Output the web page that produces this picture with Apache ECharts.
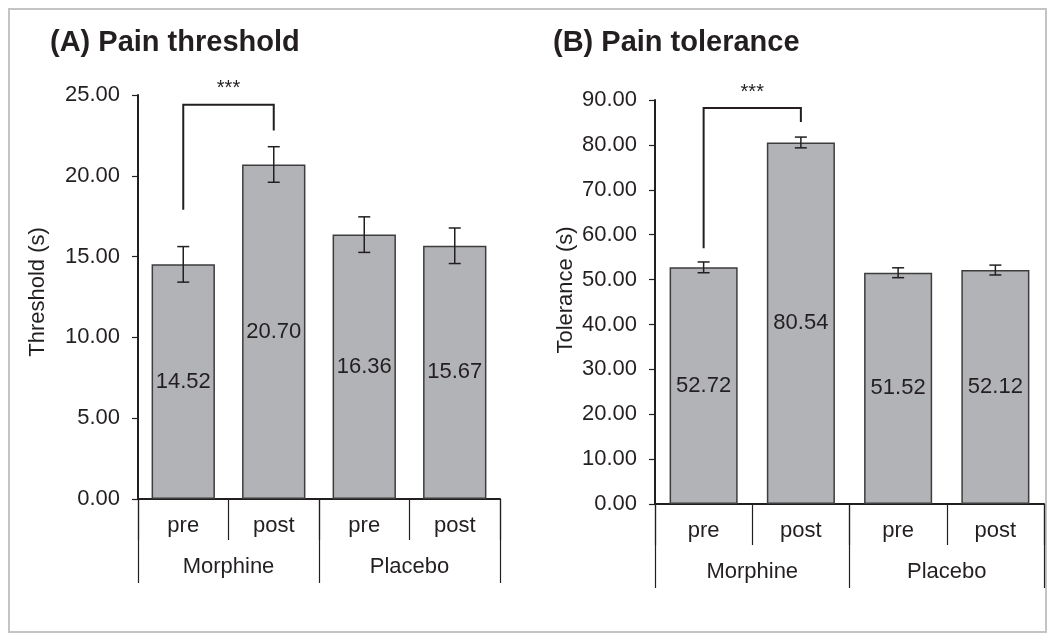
<!DOCTYPE html>
<html>
<head>
<meta charset="utf-8">
<script src="https://cdn.jsdelivr.net/npm/echarts@6/dist/echarts.min.js"></script>
<style>
  html, body { margin: 0; padding: 0; background: #fff; }
  #chart { width: 1055px; height: 640px; }
</style>
</head>
<body>
<div id="chart"></div>
<script>
// data
const phases = ['pre', 'post', 'pre', 'post']
const groups = ['Morphine', 'Placebo']
const threshold = [14.52, 20.70, 16.36, 15.67]
const thresholdErr = [1.1, 1.1, 1.1, 1.1]
const tolerance = [52.72, 80.54, 51.52, 52.12]
const toleranceErr = [1.2, 1.2, 1.1, 1.1]
// significance brackets: [fromIdx, toIdx, leftLegEnd, rightLegEnd, top]
const bracketA = [[0, 1, 17.9, 22.8, 24.4]]
const bracketB = [[0, 1, 57.0, 85.1, 88.2]]
const sigLabel = '***'

const ink = '#231f20'
const font = 'Liberation Sans, Arial, sans-serif'

const chart = echarts.init(document.getElementById('chart'))

function errorBars(vals, errs, idx) {
  return {
    type: 'custom',
    xAxisIndex: idx * 2,
    yAxisIndex: idx,
    z: 5,
    silent: true,
    data: vals.map((v, i) => [i, v, errs[i]]),
    renderItem(params, api) {
      const x = api.value(0), v = api.value(1), e = api.value(2)
      const hi = api.coord([x, v + e])
      const lo = api.coord([x, v - e])
      const cap = 6
      const style = { stroke: ink, lineWidth: 1.5 }
      return {
        type: 'group',
        children: [
          { type: 'line', shape: { x1: hi[0], y1: hi[1], x2: lo[0], y2: lo[1] }, style },
          { type: 'line', shape: { x1: hi[0] - cap, y1: hi[1], x2: hi[0] + cap, y2: hi[1] }, style },
          { type: 'line', shape: { x1: lo[0] - cap, y1: lo[1], x2: lo[0] + cap, y2: lo[1] }, style },
        ],
      }
    },
  }
}

function bracket(data, idx) {
  return {
    type: 'custom',
    xAxisIndex: idx * 2,
    yAxisIndex: idx,
    z: 6,
    silent: true,
    encode: { x: 0, y: 4 },
    data: data,
    renderItem(params, api) {
      const a = api.value(0), b = api.value(1)
      const p1 = api.coord([a, api.value(2)])
      const p2 = api.coord([a, api.value(4)])
      const p3 = api.coord([b, api.value(4)])
      const p4 = api.coord([b, api.value(3)])
      return {
        type: 'group',
        children: [
          {
            type: 'polyline',
            shape: { points: [p1, p2, p3, p4] },
            style: { stroke: ink, lineWidth: 2, fill: null },
          },
          {
            type: 'text',
            x: (p2[0] + p3[0]) / 2,
            y: p2[1] - 16,
            style: {
              text: sigLabel, fill: ink, font: '20px ' + font,
              align: 'center', verticalAlign: 'middle',
            },
          },
        ],
      }
    },
  }
}

function barSeries(vals, idx) {
  return {
    type: 'bar',
    xAxisIndex: idx * 2,
    yAxisIndex: idx,
    barCategoryGap: '30%',
    data: vals,
    itemStyle: { color: '#b2b3b7', borderColor: '#3d3d3d', borderWidth: 1.5 },
    label: {
      show: true,
      position: 'inside',
      formatter: p => p.value.toFixed(2),
      color: ink,
      fontSize: 22,
      fontFamily: font,
    },
  }
}

function xAxes(gridIndex) {
  return [
    {
      type: 'category',
      gridIndex,
      data: phases,
      position: 'bottom',
      axisLine: { show: true, lineStyle: { color: ink, width: 2 } },
      axisTick: { show: true, interval: 0, length: 41, lineStyle: { color: ink, width: 1.2 } },
      axisLabel: { interval: 0, margin: 16, color: ink, fontSize: 22, fontFamily: font },
      splitLine: { show: false },
    },
    {
      type: 'category',
      gridIndex,
      data: groups,
      position: 'bottom',
      offset: 0,
      axisLine: { show: false },
      axisTick: { show: true, interval: 0, length: 84, lineStyle: { color: ink, width: 1.2 } },
      axisLabel: { interval: 0, margin: 57, color: ink, fontSize: 22, fontFamily: font },
      splitLine: { show: false },
    },
  ]
}

function yAxis(gridIndex, max, interval, name, nameGap, pad) {
  return {
    type: 'value',
    gridIndex,
    min: 0,
    max,
    interval,
    name,
    nameLocation: 'middle',
    nameGap,
    nameTextStyle: { color: ink, fontSize: 22, fontFamily: font, padding: pad },
    axisLine: { show: true, lineStyle: { color: ink, width: 2 } },
    axisTick: { show: true, length: 6, lineStyle: { color: ink, width: 1.2 } },
    axisLabel: {
      margin: 18, color: ink, fontSize: 22, fontFamily: font,
      formatter: v => v.toFixed(2),
    },
    splitLine: { show: false },
  }
}

const option = {
  backgroundColor: '#fff',
  animation: false,
  title: [
    {
      text: '(A) Pain threshold', left: 45, top: 23,
      textStyle: { color: ink, fontSize: 29, fontWeight: 'bold', fontFamily: font },
    },
    {
      text: '(B) Pain tolerance', left: 548, top: 23,
      textStyle: { color: ink, fontSize: 29, fontWeight: 'bold', fontFamily: font },
    },
  ],
  graphic: [{
    type: 'rect',
    shape: { x: 9, y: 9, width: 1037, height: 623 },
    style: { fill: null, stroke: '#c4c4c4', lineWidth: 2 },
    silent: true,
  }],
  grid: [
    { left: 138, top: 95, width: 362, height: 404 },
    { left: 655, top: 100, width: 389, height: 404 },
  ],
  xAxis: [...xAxes(0), ...xAxes(1)],
  yAxis: [
    yAxis(0, 25, 5, 'Threshold (s)', 89, [0, 0, 0, 10]),
    yAxis(1, 90, 10, 'Tolerance (s)', 78, [0, 0, 0, 24]),
  ],
  series: [
    barSeries(threshold, 0),
    errorBars(threshold, thresholdErr, 0),
    bracket(bracketA, 0),
    barSeries(tolerance, 1),
    errorBars(tolerance, toleranceErr, 1),
    bracket(bracketB, 1),
  ],
}

chart.setOption(option)
</script>
</body>
</html>
